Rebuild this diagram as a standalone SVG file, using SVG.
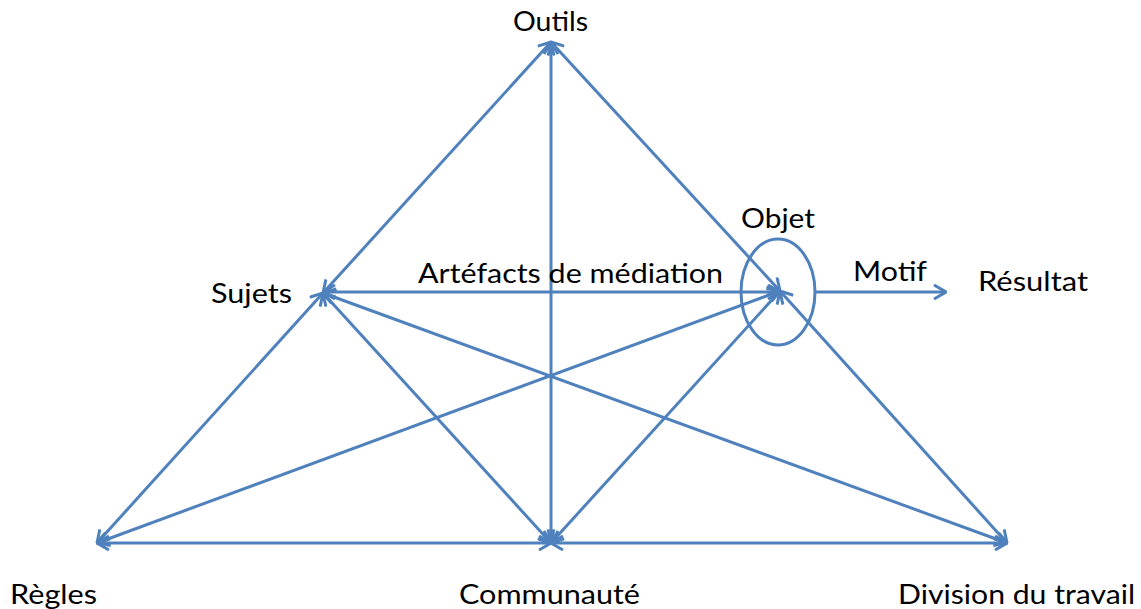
<svg xmlns="http://www.w3.org/2000/svg" width="1141" height="609" viewBox="0 0 1141 609">
  <defs>
    <style>
      .lbl { font-family: "Lato", "Liberation Sans", sans-serif; font-size: 27px; fill: #000; }
      .edge { fill: none; stroke: #4F81BD; stroke-width: 3; }
    </style>
    <marker id="tip" viewBox="0 0 14 16" refX="13" refY="8" markerWidth="14" markerHeight="16" markerUnits="userSpaceOnUse" orient="auto-start-reverse">
      <path d="M1,1 L13,8 L1,15" fill="none" stroke="#4F81BD" stroke-width="3" stroke-linejoin="miter"/>
    </marker>
  </defs>
  <rect width="1141" height="609" fill="#fff"/>

  <g id="connectors">
    <!-- upper triangle -->
    <line class="edge" x1="323" y1="293" x2="551" y2="42" marker-start="url(#tip)" marker-end="url(#tip)"/>
    <line class="edge" x1="780" y1="291" x2="551" y2="42" marker-start="url(#tip)" marker-end="url(#tip)"/>
    <line class="edge" x1="551" y1="543" x2="551" y2="42" marker-start="url(#tip)" marker-end="url(#tip)"/>
    <line class="edge" x1="323" y1="292" x2="780" y2="292" marker-start="url(#tip)" marker-end="url(#tip)"/>
    <!-- from Sujets -->
    <line class="edge" x1="97" y1="543" x2="323" y2="293" marker-start="url(#tip)" marker-end="url(#tip)"/>
    <line class="edge" x1="551" y1="543" x2="323" y2="293" marker-start="url(#tip)" marker-end="url(#tip)"/>
    <line class="edge" x1="1007" y1="543" x2="323" y2="293" marker-start="url(#tip)" marker-end="url(#tip)"/>
    <!-- from Objet -->
    <line class="edge" x1="97" y1="543" x2="780" y2="291" marker-start="url(#tip)" marker-end="url(#tip)"/>
    <line class="edge" x1="551" y1="543" x2="780" y2="291" marker-start="url(#tip)" marker-end="url(#tip)"/>
    <line class="edge" x1="1007" y1="543" x2="780" y2="291" marker-start="url(#tip)" marker-end="url(#tip)"/>
    <!-- base -->
    <line class="edge" x1="97" y1="543" x2="551" y2="543" marker-start="url(#tip)" marker-end="url(#tip)"/>
    <line class="edge" x1="551" y1="543" x2="1007" y2="543" marker-start="url(#tip)" marker-end="url(#tip)"/>
    <!-- outcome -->
    <line class="edge" x1="816" y1="292" x2="946" y2="292" marker-end="url(#tip)"/>
  </g>

  <g id="objet">
    <ellipse class="edge" cx="778" cy="292" rx="37" ry="53"/>
    <text class="lbl" x="741" y="228" textLength="74" lengthAdjust="spacingAndGlyphs">Objet</text>
  </g>
  <g id="outils"><text class="lbl" x="513" y="31" textLength="75" lengthAdjust="spacingAndGlyphs">Outils</text></g>
  <g id="sujets"><text class="lbl" x="211" y="303" textLength="81" lengthAdjust="spacingAndGlyphs">Sujets</text></g>
  <g id="mediation"><text class="lbl" x="418" y="283" textLength="305" lengthAdjust="spacingAndGlyphs">Artéfacts de médiation</text></g>
  <g id="motif"><text class="lbl" x="853" y="281" textLength="74" lengthAdjust="spacingAndGlyphs">Motif</text></g>
  <g id="resultat"><text class="lbl" x="978" y="291" textLength="110" lengthAdjust="spacingAndGlyphs">Résultat</text></g>
  <g id="regles"><text class="lbl" x="10" y="604" textLength="87" lengthAdjust="spacingAndGlyphs">Règles</text></g>
  <g id="communaute"><text class="lbl" x="459" y="604" textLength="181" lengthAdjust="spacingAndGlyphs">Communauté</text></g>
  <g id="division"><text class="lbl" x="898" y="604" textLength="237" lengthAdjust="spacingAndGlyphs">Division du travail</text></g>
</svg>
